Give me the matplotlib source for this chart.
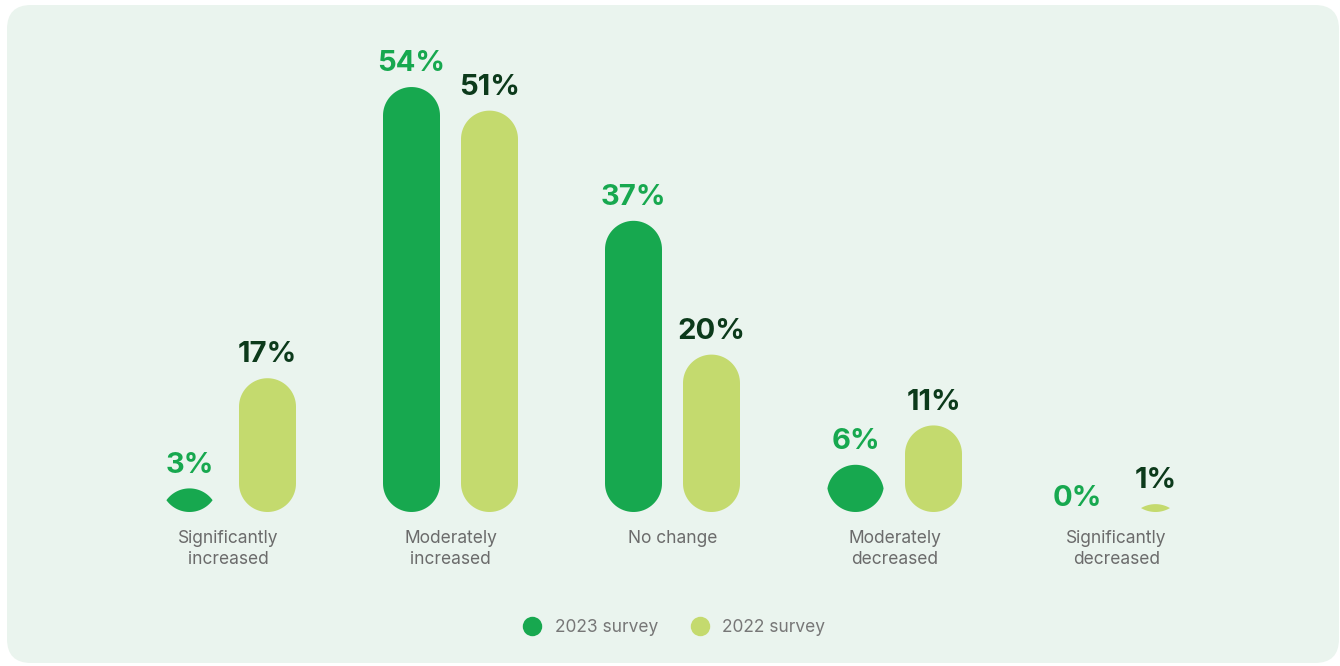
import numpy as np
import matplotlib
matplotlib.use("Agg")
import matplotlib.pyplot as plt
from matplotlib.path import Path
from matplotlib.patches import PathPatch, FancyBboxPatch
from matplotlib.lines import Line2D

categories = ["Significantly\nincreased", "Moderately\nincreased", "No change",
              "Moderately\ndecreased", "Significantly\ndecreased"]
survey_2023 = [3, 54, 37, 6, 0]
survey_2022 = [17, 51, 20, 11, 1]
series_names = ["2023 survey", "2022 survey"]

GREEN = "#17a84f"
LIME = "#c4da6e"
DARK = "#0c3a1b"
PANEL = "#eaf4ee"
GREY = "#6b6b6b"

W, H = 1340, 666
fig = plt.figure(figsize=(W / 100, H / 100), dpi=100)
fig.patch.set_facecolor("white")

# rounded background panel, drawn in pixel units
bg = fig.add_axes([0, 0, 1, 1])
bg.set_xlim(0, W)
bg.set_ylim(H, 0)
bg.axis("off")
pad = 24
bg.add_patch(FancyBboxPatch((7 + pad, 5 + pad), 1332 - 2 * pad, 658 - 2 * pad,
                            boxstyle=f"round,pad={pad}", fc=PANEL, ec="none"))

# chart axes: groups one unit apart, baseline at y=0
px_per_x = 222.0
px_per_y = 7.87
x0_px, base_px = 228.5, 512.0
ax = fig.add_axes([0, 0, 1, 1])
ax.set_xlim(-x0_px / px_per_x, (W - x0_px) / px_per_x)
ax.set_ylim(-(H - base_px) / px_per_y, base_px / px_per_y)
ax.axis("off")

bar_w = 57.0 / px_per_x
offset = 39.0 / px_per_x
rx = bar_w / 2
ry = 28.5 / px_per_y


def pill(cx, h):
    # bar with fully rounded ends; short bars become a lens
    t0 = np.arcsin(max(0.0, ry - h / 2) / ry)
    top = np.linspace(t0, np.pi - t0, 40)
    bot = np.linspace(np.pi + t0, 2 * np.pi - t0, 40)
    xs = np.concatenate([cx + rx * np.cos(top), cx + rx * np.cos(bot)])
    ys = np.concatenate([h - ry + ry * np.sin(top), ry + ry * np.sin(bot)])
    verts = np.column_stack([xs, ys])
    verts = np.vstack([verts, verts[:1]])
    codes = [Path.MOVETO] + [Path.LINETO] * (len(verts) - 2) + [Path.CLOSEPOLY]
    return Path(verts, codes)


x = np.arange(len(categories))
for vals, dx, color, tcolor in [(survey_2023, -offset, GREEN, GREEN),
                                (survey_2022, offset, LIME, DARK)]:
    for xi, v in zip(x, vals):
        if v > 0:
            ax.add_patch(PathPatch(pill(xi + dx, v), fc=color, ec="none"))
        ax.annotate(f"{v}%", (xi + dx, v), xytext=(0, 7 if v > 0 else 0),
                    textcoords="offset points", ha="center", va="bottom",
                    fontsize=21, fontweight="bold", family="Inter", color=tcolor)

for xi, cat in zip(x, categories):
    ax.annotate(cat, (xi, 0), xytext=(0, -13), textcoords="offset points",
                ha="center", va="top", fontsize=12.5, family="Inter",
                color=GREY, linespacing=1.3)

handles = [Line2D([], [], ls="none", marker="o", ms=14, mfc=c, mec="none")
           for c in (GREEN, LIME)]
fig.legend(handles, series_names, loc="center", bbox_to_anchor=(0.5, 1 - 628 / H),
           ncol=2, frameon=False, handletextpad=0.3, columnspacing=1.4,
           prop={"family": "Inter", "size": 12.5}, labelcolor="#777777")

fig.savefig("out.png", dpi=100, facecolor="white")
